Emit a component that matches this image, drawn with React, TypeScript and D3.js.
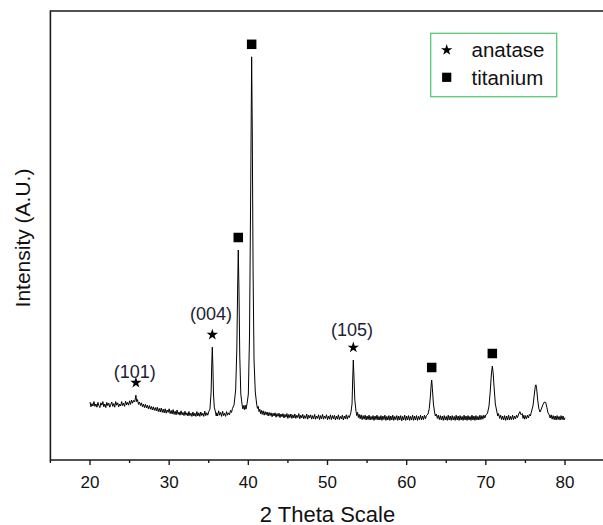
import React from "react";
import * as d3 from "d3";

// XRD pattern: [2θ (deg), intensity (a.u.)]
const pattern: [number, number][] = [
  [20.0,145],[20.125,133],[20.25,141],[20.375,135],[20.5,146],[20.625,134],[20.75,140],[20.875,132],[21.0,144],[21.125,136],
  [21.25,131],[21.375,143],[21.5,137],[21.625,146],[21.75,133],[21.875,140],[22.0,131],[22.125,144],[22.25,136],[22.375,142],
  [22.5,132],[22.625,139],[22.75,145],[22.875,134],[23.0,141],[23.125,132],[23.25,146],[23.375,137],[23.5,143],[23.625,133],
  [23.75,140],[23.875,135],[24.0,146],[24.125,136],[24.25,142],[24.375,134],[24.5,147],[24.625,138],[24.75,144],[24.875,137],
  [25.0,148],[25.125,139],[25.25,150],[25.375,142],[25.5,149],[25.65,145],[25.8,162],[25.9,146],[26.0,151],[26.125,139],
  [26.25,145],[26.375,136],[26.5,143],[26.625,133],[26.75,140],[26.875,131],[27.0,139],[27.125,130],[27.25,137],[27.375,128],
  [27.5,136],[27.625,127],[27.75,134],[27.875,125],[28.0,133],[28.125,124],[28.25,131],[28.375,123],[28.5,132],[28.625,121],
  [28.75,129],[28.875,120],[29.0,130],[29.125,119],[29.25,127],[29.375,118],[29.5,128],[29.625,117],[29.75,125],[29.875,119],
  [30.0,128],[30.125,116],[30.25,124],[30.375,115],[30.5,126],[30.625,114],[30.75,122],[30.875,113],[31.0,125],[31.125,114],
  [31.25,120],[31.375,112],[31.5,123],[31.625,113],[31.75,119],[31.875,111],[32.0,122],[32.125,112],[32.25,118],[32.375,110],
  [32.5,121],[32.625,111],[32.75,117],[32.875,109],[33.0,120],[33.125,110],[33.25,117],[33.375,109],[33.5,121],[33.625,110],
  [33.75,118],[33.875,109],[34.0,120],[34.125,111],[34.25,117],[34.375,109],[34.5,122],[34.625,111],[34.75,118],[34.875,112],
  [35.0,121],[35.15,127],[35.3,170],[35.38,240],[35.45,282],[35.52,235],[35.6,165],[35.7,132],[35.85,120],[35.95,110],
  [36.0,118],[36.125,110],[36.25,123],[36.375,112],[36.5,119],[36.625,109],[36.75,122],[36.875,111],[37.0,117],[37.125,109],
  [37.25,121],[37.375,112],[37.5,118],[37.625,113],[37.75,124],[37.875,119],[38.0,129],[38.2,138],[38.4,175],[38.55,280],
  [38.65,430],[38.73,525],[38.82,420],[38.92,260],[39.05,165],[39.2,140],[39.3,128],[39.4,136],[39.5,126],[39.6,137],
  [39.7,127],[39.85,142],[40.0,165],[40.15,310],[40.3,680],[40.42,1008],[40.5,820],[40.6,470],[40.72,250],[40.88,170],
  [41.05,140],[41.15,129],[41.25,134],[41.35,121],[41.45,127],[41.55,116],[41.65,124],[41.75,114],[41.875,123],[42.0,112],
  [42.125,121],[42.25,113],[42.375,120],[42.5,110],[42.625,119],[42.75,111],[42.875,118],[43.0,108],[43.125,117],[43.25,110],
  [43.375,118],[43.5,107],[43.625,116],[43.75,109],[43.875,117],[44.0,106],[44.125,115],[44.25,108],[44.375,116],[44.5,105],
  [44.625,114],[44.75,107],[44.875,116],[45.0,104],[45.125,114],[45.25,106],[45.375,115],[45.5,104],[45.625,113],[45.75,105],
  [45.875,115],[46.0,104],[46.125,112],[46.25,106],[46.375,116],[46.5,103],[46.625,112],[46.75,105],[46.875,114],[47.0,103],
  [47.125,111],[47.25,104],[47.375,115],[47.5,102],[47.625,112],[47.75,105],[47.875,113],[48.0,102],[48.125,111],[48.25,103],
  [48.375,114],[48.5,102],[48.625,110],[48.75,104],[48.875,113],[49.0,101],[49.125,111],[49.25,103],[49.375,114],[49.5,102],
  [49.625,110],[49.75,104],[49.875,113],[50.0,101],[50.125,110],[50.25,102],[50.375,113],[50.5,101],[50.625,111],[50.75,103],
  [50.875,112],[51.0,100],[51.125,110],[51.25,102],[51.375,113],[51.5,101],[51.625,109],[51.75,103],[51.875,112],[52.0,100],
  [52.125,110],[52.25,103],[52.375,113],[52.5,102],[52.625,111],[52.75,106],[52.95,118],[53.1,140],[53.18,200],[53.26,250],
  [53.34,210],[53.45,150],[53.6,122],[53.7,111],[53.8,119],[53.9,106],[54.0,114],[54.125,103],[54.25,113],[54.375,101],
  [54.5,111],[54.625,102],[54.75,112],[54.875,100],[55.0,110],[55.125,101],[55.25,112],[55.375,100],[55.5,109],[55.625,101],
  [55.75,111],[55.875,99],[56.0,110],[56.125,101],[56.25,112],[56.375,100],[56.5,109],[56.625,100],[56.75,111],[56.875,99],
  [57.0,110],[57.125,101],[57.25,112],[57.375,99],[57.5,109],[57.625,100],[57.75,111],[57.875,99],[58.0,110],[58.125,100],
  [58.25,112],[58.375,99],[58.5,109],[58.625,101],[58.75,111],[58.875,99],[59.0,110],[59.125,100],[59.25,111],[59.375,98],
  [59.5,109],[59.625,100],[59.75,112],[59.875,99],[60.0,110],[60.125,100],[60.25,111],[60.375,99],[60.5,109],[60.625,100],
  [60.75,112],[60.875,99],[61.0,110],[61.125,100],[61.25,111],[61.375,99],[61.5,109],[61.625,101],[61.75,112],[61.875,100],
  [62.0,110],[62.125,101],[62.25,112],[62.375,103],[62.5,111],[62.7,115],[62.85,128],[63.0,160],[63.1,190],[63.16,200],
  [63.25,178],[63.38,140],[63.52,120],[63.62,110],[63.75,115],[63.875,104],[64.0,112],[64.125,101],[64.25,111],[64.375,100],
  [64.5,110],[64.625,99],[64.75,111],[64.875,100],[65.0,109],[65.125,99],[65.25,112],[65.375,100],[65.5,110],[65.625,99],
  [65.75,111],[65.875,100],[66.0,109],[66.125,99],[66.25,112],[66.375,100],[66.5,110],[66.625,99],[66.75,111],[66.875,100],
  [67.0,109],[67.125,99],[67.25,112],[67.375,100],[67.5,110],[67.625,99],[67.75,111],[67.875,100],[68.0,109],[68.125,99],
  [68.25,112],[68.375,100],[68.5,110],[68.625,99],[68.75,111],[68.875,100],[69.0,109],[69.125,100],[69.25,112],[69.375,101],
  [69.5,111],[69.625,102],[69.75,112],[69.875,105],[70.0,113],[70.2,116],[70.4,135],[70.55,170],[70.7,215],[70.82,235],
  [70.92,218],[71.05,180],[71.2,140],[71.4,120],[71.5,110],[71.6,116],[71.75,104],[71.875,112],[72.0,101],[72.125,110],
  [72.25,100],[72.375,111],[72.5,99],[72.625,110],[72.75,100],[72.875,112],[73.0,100],[73.125,109],[73.25,101],[73.375,112],
  [73.5,101],[73.625,110],[73.75,103],[73.875,112],[74.0,106],[74.15,115],[74.3,121],[74.45,113],[74.6,116],[74.7,104],
  [74.8,112],[74.9,102],[75.0,111],[75.125,103],[75.25,112],[75.375,105],[75.5,114],[75.625,110],[75.75,120],[75.95,135],
  [76.1,160],[76.25,185],[76.33,188],[76.42,178],[76.55,150],[76.7,128],[76.85,120],[77.0,127],[77.2,138],[77.4,145],
  [77.56,144],[77.7,132],[77.85,118],[78.0,113],[78.125,105],[78.25,113],[78.375,102],[78.5,111],[78.625,101],[78.75,110],
  [78.875,100],[79.0,111],[79.125,101],[79.25,109],[79.375,100],[79.5,111],[79.625,101],[79.75,110],[79.875,100],[80.0,106],
];

// Indexed peaks
const anataseTheta = [25.8, 35.45, 53.26];
const anataseIntensity = [162, 282, 250];
const anataseHkl = ["(101)", "(004)", "(105)"];
const titaniumTheta = [38.73, 40.42, 63.16, 70.82];
const titaniumIntensity = [525, 1008, 200, 235];

const majorTicks = [20, 30, 40, 50, 60, 70, 80];
const minorTicks = [15, 25, 35, 45, 55, 65, 75];

const xDomain: [number, number] = [15, 85];
const yDomain: [number, number] = [0, 1122.5];

const legendItems = ["anatase", "titanium"];
const hklLabelGap = [11.5, 21, 17.5];

const FONT = "'Liberation Sans', Arial, sans-serif";

export default function App() {
  const W = 603;
  const H = 525;
  const left = 50.4;
  const right = 604.6;
  const top = 11;
  const bottom = 460;

  const x = d3.scaleLinear().domain(xDomain).range([left, right]);
  const y = d3.scaleLinear().domain(yDomain).range([bottom, top]);
  const line = d3
    .line<[number, number]>()
    .x((d) => x(d[0]))
    .y((d) => y(d[1]));

  const star = d3.symbol(d3.symbolStar, 40)()!;
  const sq = 9.5;
  const markerGap = 12.5;

  return (
    <svg
      width={W}
      height={H}
      viewBox={`0 0 ${W} ${H}`}
      style={{ position: "absolute", left: 0, top: 0, background: "#fff" }}
      fontFamily={FONT}
    >
      <rect x={0} y={0} width={W} height={H} fill="#fff" />
      {/* frame */}
      <path
        d={`M${left},${bottom}V${top}H${right}V${bottom}Z`}
        fill="none"
        stroke="#1a1a1a"
        strokeWidth={1.6}
      />
      {/* x ticks */}
      {majorTicks.map((t) => (
        <line key={"M" + t} x1={x(t)} x2={x(t)} y1={bottom} y2={bottom + 5} stroke="#1a1a1a" strokeWidth={1.4} />
      ))}
      {minorTicks.map((t) => (
        <line key={"m" + t} x1={x(t)} x2={x(t)} y1={bottom} y2={bottom + 3} stroke="#1a1a1a" strokeWidth={1.4} />
      ))}
      {majorTicks.map((t) => (
        <text key={"l" + t} x={x(t)} y={488} textAnchor="middle" fontSize={17} fill="#111">
          {t}
        </text>
      ))}
      <text x={(left + right) / 2} y={521.5} textAnchor="middle" fontSize={22} fill="#111">
        2 Theta Scale
      </text>
      <text
        transform={`translate(30,238) rotate(-90)`}
        textAnchor="middle"
        fontSize={21}
        fill="#111"
      >
        Intensity (A.U.)
      </text>

      {/* pattern */}
      <path d={line(pattern) || ""} fill="none" stroke="#000" strokeWidth={1} strokeLinejoin="round" />

      {/* anatase markers */}
      {anataseTheta.map((t, i) => {
        const cx = x(t);
        const cy = y(anataseIntensity[i]) - markerGap;
        return (
          <g key={"a" + i}>
            <path d={star} transform={`translate(${cx},${cy})`} fill="#000" />
            <text
              x={cx - 1.2}
              y={cy - hklLabelGap[i]}
              dy="0.36em"
              textAnchor="middle"
              fontSize={18}
              fill="#1c2233"
            >
              {anataseHkl[i]}
            </text>
          </g>
        );
      })}
      {/* titanium markers */}
      {titaniumTheta.map((t, i) => {
        const cx = x(t);
        const cy = y(titaniumIntensity[i]) - markerGap;
        return <rect key={"t" + i} x={cx - sq / 2} y={cy - sq / 2} width={sq} height={sq} fill="#000" />;
      })}

      {/* legend */}
      <rect x={430.7} y={33.3} width={126} height={63.4} fill="#fff" stroke="#5cc878" strokeWidth={1.3} />
      {legendItems.map((name, i) => {
        const ly = 50 + i * 27.3;
        return (
          <g key={name}>
            {i === 0 ? (
              <path d={star} transform={`translate(446.7,${ly})`} fill="#000" />
            ) : (
              <rect x={446.7 - 4.6} y={ly - 4.6} width={9.2} height={9.2} fill="#000" />
            )}
            <text x={471.5} y={ly} dy="0.36em" fontSize={20.5} fill="#111">
              {name}
            </text>
          </g>
        );
      })}
    </svg>
  );
}
